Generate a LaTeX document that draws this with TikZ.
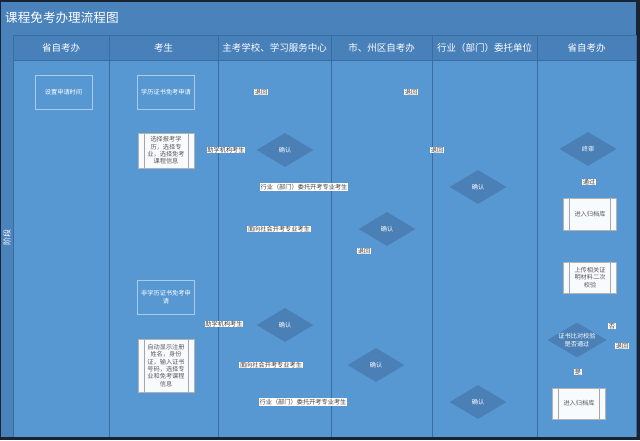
\documentclass[tikz,border=0pt]{standalone}
\usepackage{fontspec}
\newfontfamily\cjk{Noto Sans CJK SC}
\usetikzlibrary{shapes}
\definecolor{frameblue}{RGB}{24,36,52}
\definecolor{barblue}{RGB}{74,130,187}
\definecolor{hdblue}{RGB}{72,128,186}
\definecolor{lnblue}{RGB}{88,152,210}
\definecolor{ruleblue}{RGB}{58,108,160}
\definecolor{diablue}{RGB}{74,128,182}
\def\Back{退回}
\def\Ok{确认}

\begin{document}
\begin{tikzpicture}[x=1pt,y=-1pt,% one unit is one pixel of the page, y runs down
			every node/.style={
				align=center,  		% so that "\\" breaks the line
				inner sep=1pt,
				font=\cjk\fontsize{6.2}{7.3}\selectfont
			},
			lanehead/.style={text=white,font=\cjk\fontsize{9.5}{11}\selectfont},
			task/.style={rectangle,draw=white!50!lnblue,text=white,minimum width=57pt,minimum height=34pt},
			proc/.style={rectangle,draw=gray!60,fill=white!96!lnblue,text=black!65,
				minimum width=56pt,minimum height=35pt,
				path picture={\draw[gray!70]
					([xshift=6pt]path picture bounding box.north west) -- ([xshift=6pt]path picture bounding box.south west)
					([xshift=-6pt]path picture bounding box.north east) -- ([xshift=-6pt]path picture bounding box.south east);}},
			check/.style={diamond,aspect=1.7,fill=diablue,text=white,minimum width=57pt,minimum height=34pt,inner sep=0pt},
			tag/.style={fill=white,text=black!75,inner sep=0.6pt}
		]
		\useasboundingbox (0,0) rectangle (640,440);
		% frame, title bar and stage strip
		\fill[frameblue] (0,0) rectangle (640,440);
		\fill[barblue] (1,2) rectangle (636,437);
		\node[anchor=west,text=white,font=\cjk\fontsize{12.6}{14}\selectfont](TT) at (4,18){课程免考办理流程图};
		\node[rotate=90,text=white,font=\cjk\fontsize{8}{9}\selectfont](J) at (7,237){阶段};
		% swim lanes
		\foreach \a/\b/\t [count=\i] in {13/109/省自考办,109/218/考生,218/331/主考学校、学习服务中心,331/432/市、州区自考办,432/537/行业（部门）委托单位,537/636/省自考办}{
			\fill[lnblue] (\a,60) rectangle (\b,437);
			\fill[hdblue] (\a,35) rectangle (\b,60);
			\node[lanehead](T\i) at ({(\a+\b)/2},47.5){\t};
			\draw[ruleblue] (\a,35) -- (\a,437);
		}
		\draw[ruleblue] (636,35) -- (636,437);
		\draw[ruleblue] (13,35) -- (636,35) (13,60) -- (636,60);

		\node[task](S1) at (63.5,92){设置申请时间};
		\node[task](K1) at (166,92){学历证书免考申请};
		\node[proc](K2) at (166,150.5){选择报考学\\历，选择专\\业，选择免考\\课程信息};
		\node[task](K3) at (166,297){非学历证书免考申\\请};
		\node[proc,minimum height=53pt](K4) at (166,365.5){自动显示注册\\姓名，身份\\证，输入证书\\号码，选择专\\业和免考课程\\信息};
		\node[check](Z1) at (285,150){\Ok};
		\node[check](Z2) at (285,325){\Ok};
		\node[check](C1) at (387,229){\Ok};
		\node[check](C2) at (376,365){\Ok};
		\node[check](H1) at (478,187){\Ok};
		\node[check](H2) at (478,402){\Ok};
		\node[check](P1) at (588,149){终审};
		\node[proc,minimum width=53pt,minimum height=32pt](P2) at (590,214){进入归档库};
		\node[proc,minimum width=53pt,minimum height=31pt](P3) at (590,277.5){上传相关证\\明材料二次\\校验};
		\node[check](P4) at (577,340){证书比对校验\\是否通过};
		\node[proc,minimum width=53pt,minimum height=31pt](P5) at (579,403.5){进入归档库};

		\node[tag](L1) at (261,92){\Back};
		\node[tag](L2) at (411,92){\Back};
		\node[tag](L3) at (226,150){助学机构考生};
		\node[tag](L4) at (304,187){行业（部门）委托开考专业考生};
		\node[tag](L5) at (279,229){面向社会开考专业考生};
		\node[tag](L6) at (437,150){\Back};
		\node[tag](L7) at (364,251){\Back};
		\node[tag](L8) at (589,182){通过};
		\node[tag](L9) at (224,324){助学机构考生};
		\node[tag](L10) at (271,365){面向社会开考专业考生};
		\node[tag](L11) at (303,402){行业（部门）委托开考专业考生};
		\node[tag](L12) at (612,326){否};
		\node[tag](L13) at (622,346){\Back};
		\node[tag](L14) at (578,372){是};
	\end{tikzpicture}
\end{document}
